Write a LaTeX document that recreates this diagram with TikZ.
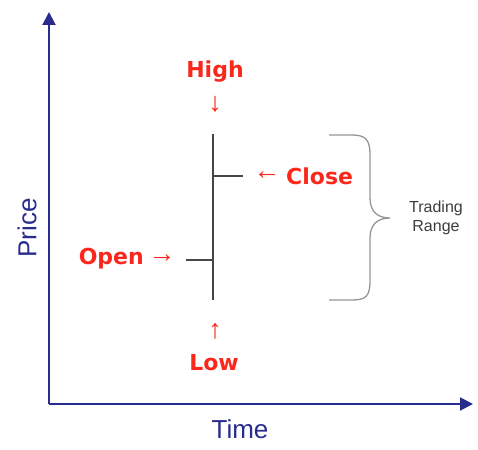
\documentclass[tikz,border=0pt]{standalone}
\usepackage{fontspec}
\setmainfont{Liberation Sans}
\newfontfamily\boldlab{DejaVu Sans}
\usetikzlibrary{arrows.meta}
\definecolor{axisblue}{RGB}{40,44,140}
\definecolor{labred}{RGB}{250,40,28}
\definecolor{candle}{RGB}{70,70,70}
\definecolor{bracegray}{RGB}{150,150,150}
\definecolor{txtgray}{RGB}{60,60,60}
\tikzset{
  axisline/.style={draw=axisblue, line width=2pt, -{Triangle[length=13pt,width=13pt]}},
  axislabel/.style={text=axisblue, font=\fontsize{26}{28}\selectfont, inner sep=0pt},
  redlabel/.style={text=labred, font=\boldlab\bfseries\fontsize{22}{24}\selectfont, inner sep=0pt},
  redarrow/.style={text=labred, font=\fontsize{27}{29}\selectfont, inner sep=0pt},
  candleline/.style={draw=candle, line width=1.2pt},
  braceline/.style={draw=bracegray, line width=1.3pt},
  rangelabel/.style={text=txtgray, font=\fontsize{16}{19}\selectfont, align=center, inner sep=0pt}
}
\begin{document}
\begin{tikzpicture}[x=1pt,y=-1pt]
\useasboundingbox (0,0) rectangle (478,449);
% axes
\coordinate (o) at (49,404);
\coordinate (ytip) at (49,12);
\coordinate (xtip) at (473,404);
\draw[axisline] (o) -- (ytip);
\draw[axisline] (o) -- (xtip);
\node[axislabel, rotate=90] (price) at (27,228) {Price};
\node[axislabel] (time) at (240,429) {Time};
% candle
\coordinate (hi) at (213,134);
\coordinate (lo) at (213,300);
\coordinate (cl) at (213,176);
\coordinate (clend) at (243,176);
\coordinate (op) at (213,260);
\coordinate (opend) at (186,260);
\draw[candleline] (hi) -- (lo);
\draw[candleline] (cl) -- (clend);
\draw[candleline] (opend) -- (op);
% labels
\node[redlabel] (high) at (215,72) {High};
\node[redarrow] (harr) at (215,104) {↓};
\node[redarrow] (larr) at (215,331) {↑};
\node[redlabel] (low) at (214,363) {Low};
\node[redarrow] (carr) at (267,176) {←};
\node[redlabel, anchor=west] (close) at (286,176) {Close};
\node[redarrow] (oarr) at (162,259) {→};
\node[redlabel, anchor=east] (open) at (144,259) {Open};
% brace
\draw[braceline] (329,135) -- (352,135) .. controls (366,135) and (370,140) .. (370,155)
  -- (370,198) .. controls (370,212) and (378,218) .. (390,218)
  .. controls (378,218) and (370,224) .. (370,238)
  -- (370,281) .. controls (370,296) and (366,300) .. (352,300) -- (329,300);
\node[rangelabel] (range) at (436,218) {Trading\\Range};
\end{tikzpicture}
\end{document}
